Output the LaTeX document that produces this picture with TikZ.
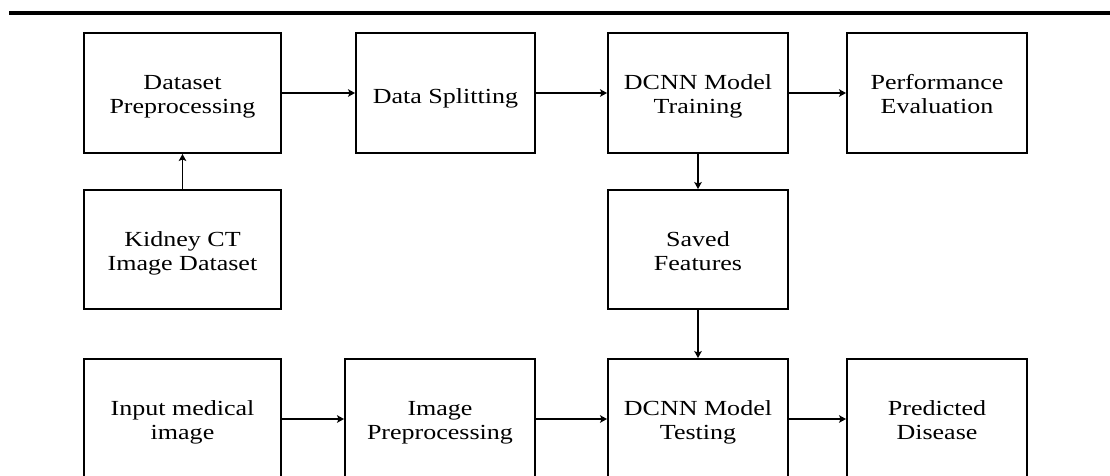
\documentclass[tikz,border=0pt]{standalone}
\usepackage{fontspec}
\setmainfont[FakeStretch=1.21]{Liberation Serif}
\usetikzlibrary{arrows.meta}
\newcommand\boxtwolines[2]{\rule{0pt}{17pt}\smash{#1}\\\smash{#2}}
\newcommand\boxoneline[1]{\rule{0pt}{20pt}\smash{#1}}
\begin{document}
\begin{tikzpicture}[x=1pt,y=-1pt,
  box/.style={draw=black, line width=1.9pt, rectangle, minimum height=120pt,
    align=center, inner sep=0pt, font=\fontsize{21.5}{24}\selectfont},
  conn/.style={line width=1.5pt, -{Stealth[length=7pt,width=7.5pt,inset=1.5pt]}},
  rule/.style={line width=4pt}]
\useasboundingbox (0,0) rectangle (1110,475);
\clip (0,0) rectangle (1110,475);
\coordinate (r1) at (9,13);
\coordinate (r2) at (1110,13);
\draw[rule] (r1) -- (r2);

\node[box, minimum width=197pt] (dp) at (182.5,93) {\boxtwolines{Dataset}{Preprocessing}};
\node[box, minimum width=179pt] (ds) at (445.5,93) {\boxoneline{Data Splitting}};
\node[box, minimum width=180pt] (tr) at (698,93) {\boxtwolines{DCNN Model}{Training}};
\node[box, minimum width=180pt] (pe) at (937,93) {\boxtwolines{Performance}{Evaluation}};
\node[box, minimum width=197pt, minimum height=119pt] (kd) at (182.5,249.5) {\boxtwolines{Kidney CT}{Image Dataset}};
\node[box, minimum width=180pt, minimum height=119pt] (sf) at (698,249.5) {\boxtwolines{Saved}{Features}};
\node[box, minimum width=197pt] (im) at (182.5,419) {\boxtwolines{Input medical}{image}};
\node[box, minimum width=190pt] (ip) at (440,419) {\boxtwolines{Image}{Preprocessing}};
\node[box, minimum width=180pt] (te) at (698,419) {\boxtwolines{DCNN Model}{Testing}};
\node[box, minimum width=180pt] (pd) at (937,419) {\boxtwolines{Predicted}{Disease}};

\draw[conn] (dp) -- (ds);
\draw[conn] (ds) -- (tr);
\draw[conn] (tr) -- (pe);
\draw[conn] (kd) -- (dp);
\draw[conn] (tr) -- (sf);
\draw[conn] (sf) -- (te);
\draw[conn] (im) -- (ip);
\draw[conn] (ip) -- (te);
\draw[conn] (te) -- (pd);
\end{tikzpicture}
\end{document}
